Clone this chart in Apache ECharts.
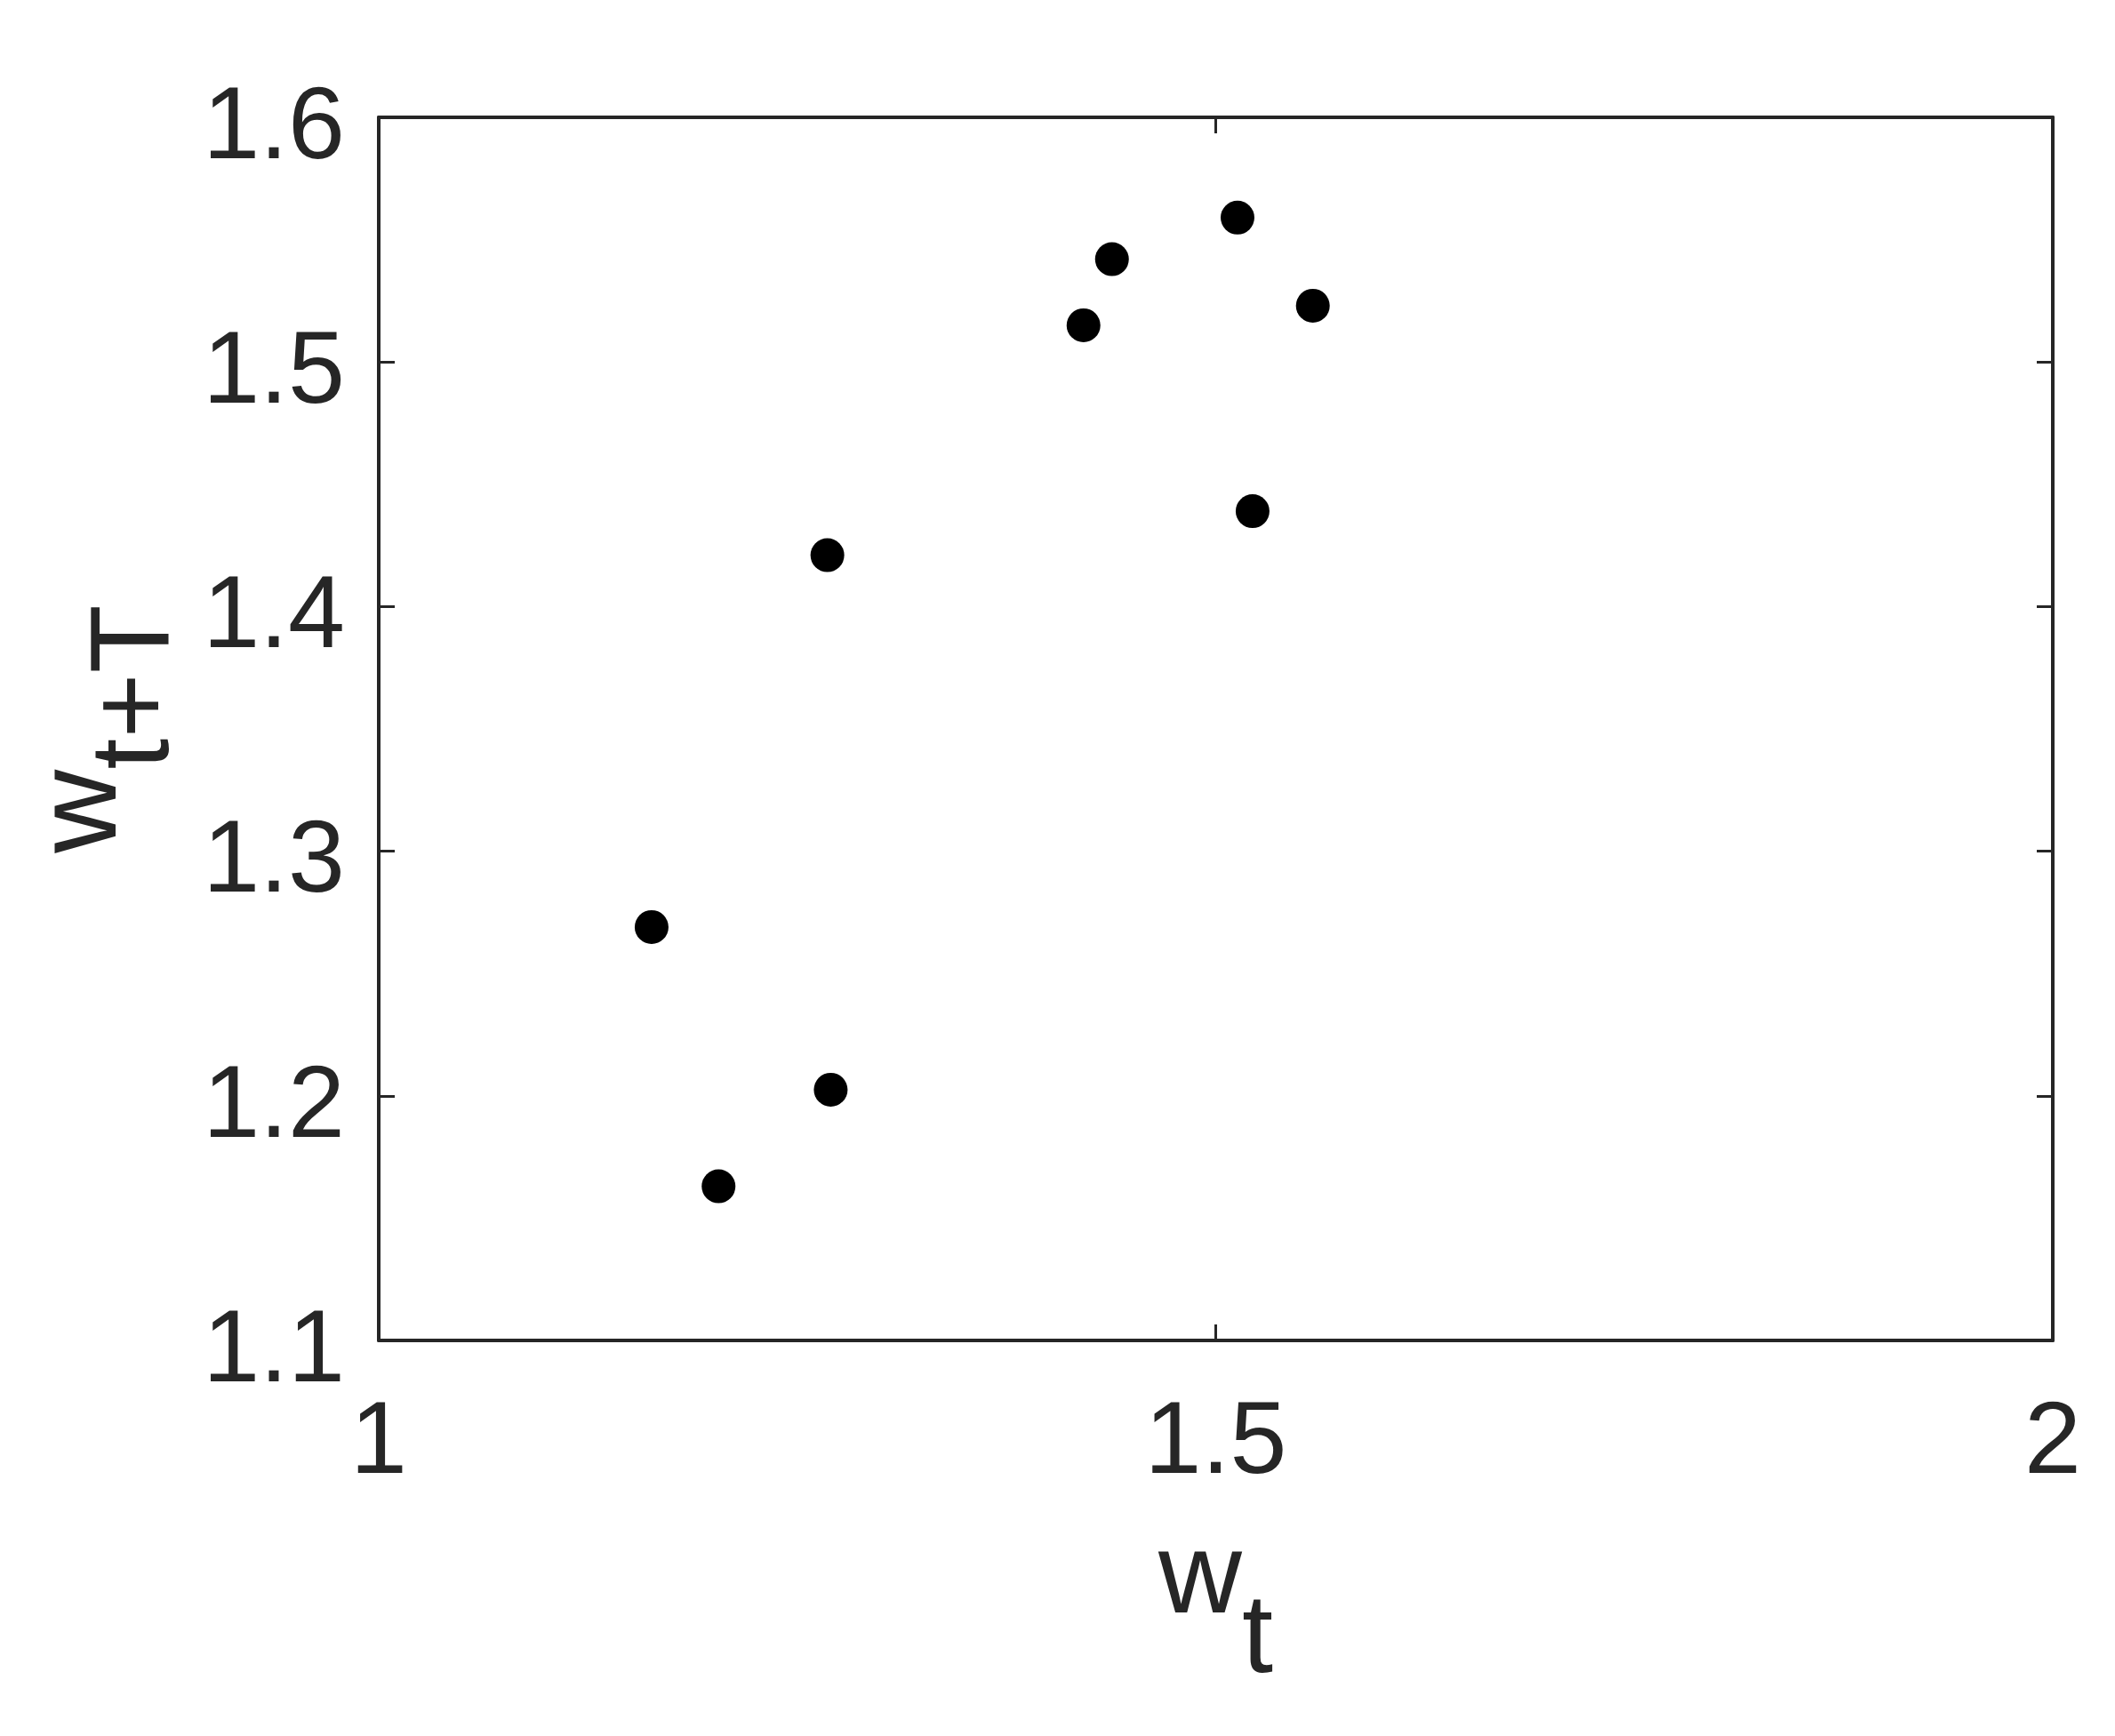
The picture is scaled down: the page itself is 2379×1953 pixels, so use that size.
<!DOCTYPE html>
<html>
<head>
<meta charset="utf-8">
<script src="https://cdn.jsdelivr.net/npm/echarts@6/dist/echarts.min.js"></script>
<style>
  html, body { margin: 0; padding: 0; background: #fff; }
  #chart { width: 2379px; height: 1953px; }
</style>
</head>
<body>
<div id="chart"></div>
<script>
// data: w_t against w_{t+T}
const wT = [1.163, 1.203, 1.270, 1.268, 1.421, 1.438, 1.513, 1.558, 1.522];
const wTplus = [1.269, 1.163, 1.2025, 1.421, 1.515, 1.542, 1.559, 1.523, 1.439];
const xTicks = [1, 1.5, 2];
const yTicks = [1.1, 1.2, 1.3, 1.4, 1.5, 1.6];

const ink = "#262626";
const font = "Liberation Sans, Arial, sans-serif";

let points = wT.map((x, i) => [x, wTplus[i]]);

let baseX = {
  type: "value",
  min: xTicks[0],
  max: xTicks[xTicks.length - 1],
  interval: 0.5,
  splitLine: { show: false },
  axisLine: { show: true, onZero: false, lineStyle: { color: ink, width: 4 } },
  axisTick: { show: true, inside: true, length: 18, lineStyle: { color: ink, width: 3 } }
};

let baseY = {
  type: "value",
  min: yTicks[0],
  max: yTicks[yTicks.length - 1],
  interval: 0.1,
  splitLine: { show: false },
  axisLine: { show: true, onZero: false, lineStyle: { color: ink, width: 4 } },
  axisTick: { show: true, inside: true, length: 18, lineStyle: { color: ink, width: 3 } }
};

let option = {
  backgroundColor: "#fff",
  animation: false,
  grid: { left: 426, right: 70, top: 132, bottom: 445, containLabel: false, outerBoundsMode: "none" },
  xAxis: [
    Object.assign({}, baseX, {
      position: "bottom",
      axisLabel: { show: true, margin: 60, color: ink, fontSize: 115, fontFamily: font },
      name: "{w|w}{s|t}",
      nameLocation: "middle",
      nameGap: 205,
      nameTextStyle: {
        color: ink,
        fontFamily: font,
        rich: {
          w: { fontSize: 130, fontFamily: font, color: ink, padding: [0, 0, 68, 0] },
          s: { fontSize: 126, fontFamily: font, color: ink, padding: [68, 0, 0, 0] }
        }
      }
    }),
    Object.assign({}, baseX, { position: "top", axisLabel: { show: false } })
  ],
  yAxis: [
    Object.assign({}, baseY, {
      position: "left",
      axisLabel: {
        show: true,
        margin: 38,
        color: ink,
        fontSize: 115,
        fontFamily: font,
        formatter: "{n|{value}}",
        rich: { n: { fontSize: 115, fontFamily: font, color: ink, padding: [28, 0, 0, 0] } }
      },
      name: "{w|w}{s|t+T}",
      nameLocation: "middle",
      nameGap: 206,
      nameRotate: 90,
      nameTextStyle: {
        color: ink,
        fontFamily: font,
        rich: {
          w: { fontSize: 130, fontFamily: font, color: ink, padding: [0, 0, 60, 0] },
          s: { fontSize: 126, fontFamily: font, color: ink, padding: [60, 0, 0, 0] }
        }
      }
    }),
    Object.assign({}, baseY, { position: "right", axisLabel: { show: false } })
  ],
  series: [
    {
      type: "scatter",
      xAxisIndex: 0,
      yAxisIndex: 0,
      symbol: "circle",
      symbolSize: 38,
      itemStyle: { color: "#000", opacity: 1 },
      data: points
    }
  ]
};

let myChart = echarts.init(document.getElementById("chart"));
myChart.setOption(option);
</script>
</body>
</html>
